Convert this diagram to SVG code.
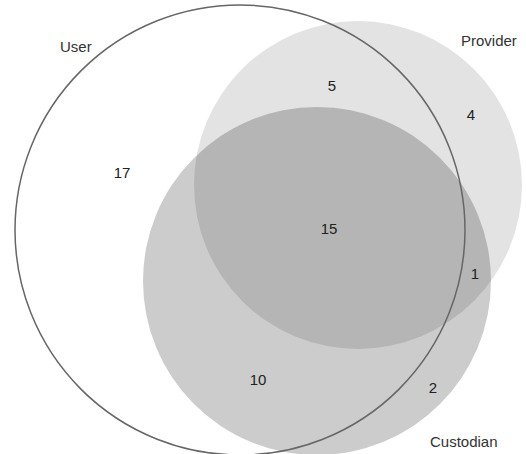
<svg xmlns="http://www.w3.org/2000/svg" width="526" height="454" viewBox="0 0 526 454">
<style>
.lbl{font-family:"Liberation Sans",Arial,sans-serif;font-size:15px;fill:#333}
.num{font-family:"Liberation Sans",Arial,sans-serif;font-size:15px;fill:#222;text-anchor:middle}
</style>
<rect width="526" height="454" fill="#ffffff"/>
<g id="provider">
<circle cx="358" cy="185" r="164" fill="#e3e3e3"/>
</g>
<g id="custodian">
<circle cx="317" cy="281" r="174" fill="#000000" fill-opacity="0.2"/>
</g>
<g id="user">
<circle cx="240" cy="230" r="225" fill="none" stroke="#666666" stroke-width="1.5"/>
</g>
<g id="labels">
<text class="lbl" x="60" y="52">User</text>
<text class="lbl" x="461" y="46">Provider</text>
<text class="lbl" x="430" y="447">Custodian</text>
<text class="num" x="332" y="91">5</text>
<text class="num" x="471" y="120">4</text>
<text class="num" x="122" y="178">17</text>
<text class="num" x="329" y="234">15</text>
<text class="num" x="475" y="279">1</text>
<text class="num" x="258" y="385">10</text>
<text class="num" x="433" y="393">2</text>
</g>
<g id="connectors"></g>
</svg>
